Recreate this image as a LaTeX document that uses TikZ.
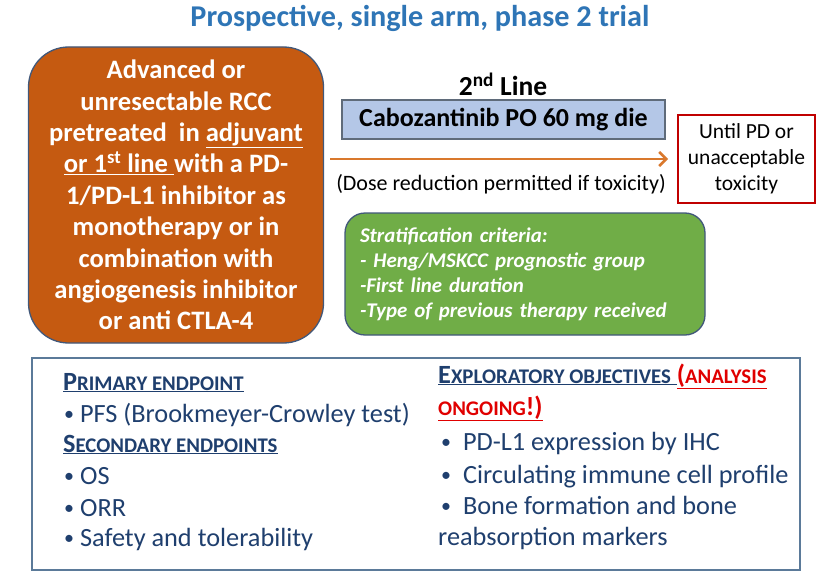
\documentclass[tikz,border=0pt]{standalone}
\usepackage{fontspec}
\setmainfont{Carlito}
\usetikzlibrary{arrows.meta}
\definecolor{titleblue}{HTML}{2E75B6}
\definecolor{rccorange}{HTML}{C55A11}
\definecolor{boxedge}{HTML}{41587A}
\definecolor{drugblue}{HTML}{B4C7E7}
\definecolor{drugedge}{HTML}{5F6B7A}
\definecolor{arrorange}{HTML}{D9782D}
\definecolor{stopred}{HTML}{C00000}
\definecolor{stratgreen}{HTML}{70AD47}
\definecolor{endblue}{HTML}{1F3F6E}
\definecolor{endedge}{HTML}{5B7A99}
\definecolor{alertred}{HTML}{E00000}
\newcommand{\bigc}[1]{{\fontsize{26.3}{31}\selectfont #1}}
\newcommand{\smc}[1]{{\fontsize{20.8}{31}\selectfont #1}}
\newcommand{\bul}{\raisebox{1.6pt}{\fontsize{20}{24}\selectfont\textbullet}}
\begin{document}
\begin{tikzpicture}[x=1pt,y=-1pt,
  fbox/.style={draw=boxedge,line width=1.3pt,rounded corners=#1},
  endtxt/.style={anchor=base west,inner sep=0pt,text=endblue,font=\fontsize{26.3}{31}\selectfont},
  arr/.style={draw=arrorange,line width=2.8pt,-{Straight Barb[length=7pt,width=14pt,line width=2.6pt]}}]
\useasboundingbox (0,0) rectangle (837,583);
\fill[white] (0,0) rectangle (837,583);
% title
\node[text=titleblue,font=\bfseries\fontsize{30.2}{34}\selectfont] (title) at (420,18) {Prospective, single arm, phase 2 trial};
% orange box
\node[fbox=40pt,fill=rccorange,minimum width=295pt,minimum height=296pt,text=white,
  font=\bfseries\fontsize{26.6}{31.4}\selectfont,align=center] (rcc) at (176,195)
  {Advanced or\\ unresectable RCC\\ pretreated\ \ in \underline{adjuvant}\\ \underline{or 1\textsuperscript{st} line }with a PD-\\ 1/PD-L1 inhibitor as\\ monotherapy or in\\ combination with\\ angiogenesis inhibitor\\ or anti CTLA-4};
% 2nd line
\node[font=\bfseries\fontsize{27.5}{32}\selectfont] (line2) at (503,84) {2\textsuperscript{nd} Line};
\node[draw=drugedge,line width=1.2pt,fill=drugblue,minimum width=323pt,minimum height=39pt,
  font=\bfseries\fontsize{26}{30}\selectfont] (drug) at (503.5,119.5) {Cabozantinib PO 60 mg die};
% red box
\node[draw=stopred,line width=2pt,minimum width=137pt,minimum height=88pt,align=center,
  font=\fontsize{21.5}{26}\selectfont] (stop) at (746.5,159) {Until PD or\\ unacceptable\\ toxicity};
% arrow
\draw[arr] ([xshift=6pt]rcc.east |- stop.west) -- ([xshift=-9pt]stop.west);
\node[font=\fontsize{22}{26}\selectfont] (dose) at (501,184) {(Dose reduction permitted if toxicity)};
% green box
\node[fbox=20pt,fill=stratgreen,minimum width=360pt,minimum height=122pt,text width=330pt,
  inner xsep=15pt,align=left,text=white,font=\bfseries\itshape\fontsize{20.9}{25}\selectfont] (strat) at (525,274)
  {Stratification criteria:\\ - Heng/MSKCC prognostic group\\ -First line duration\\ -Type of previous therapy received};
% endpoints box
\node[draw=endedge,line width=1.2pt,minimum width=768pt,minimum height=212pt] (ends) at (416,464) {};
\node[endtxt] (prim) at (63,390) {\underline{\bfseries\bigc{P}\smc{RIMARY ENDPOINT}}};
\node[endtxt] (pfs) at (64,422) {\bul\ PFS (Brookmeyer-Crowley test)};
\node[endtxt] (sec) at (63,452) {\underline{\bfseries\bigc{S}\smc{ECONDARY ENDPOINTS}}};
\node[endtxt] (os) at (64,484) {\bul\ OS};
\node[endtxt] (orr) at (64,516) {\bul\ ORR};
\node[endtxt] (safe) at (64,546) {\bul\ Safety and tolerability};
\node[endtxt] (expl) at (438,383) {\bfseries\underline{\bigc{E}\smc{XPLORATORY OBJECTIVES} }\textcolor{alertred}{\underline{\bigc{(}\smc{ANALYSIS}}}};
\node[endtxt,text=alertred] (ongo) at (438,415) {\bfseries\underline{\smc{ONGOING}\bigc{!)}}};
\node[endtxt] (pdl) at (441,450) {\bul\ \ PD-L1 expression by IHC};
\node[endtxt] (circ) at (441,483) {\bul\ \ Circulating immune cell profile};
\node[endtxt] (bone) at (441,514) {\bul\ \ Bone formation and bone};
\node[endtxt] (reab) at (438,545) {reabsorption markers};
\end{tikzpicture}
\end{document}
